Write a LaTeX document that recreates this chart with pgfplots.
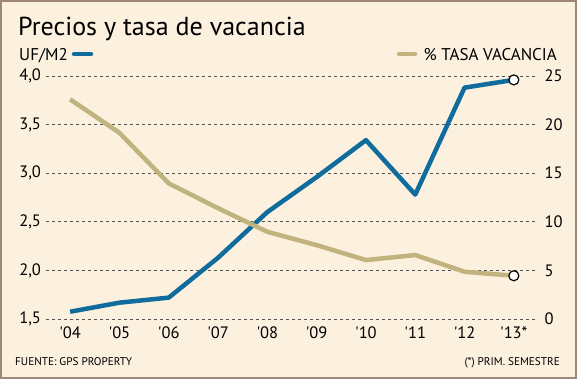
\documentclass[border=0pt]{standalone}
\usepackage{pgfplots}
\pgfplotsset{compat=1.18}
\usepackage{fontspec}
\setmainfont{PT Sans}
\definecolor{bg}{HTML}{FCF0DF}
\definecolor{framec}{HTML}{A08878}
\definecolor{ufblue}{HTML}{106C9C}
\definecolor{tan}{HTML}{C1B37E}
\definecolor{gridc}{HTML}{555555}
\pgfplotstableread{
x uf vac
0 1.575 22.6
1 1.668 19.15
2 1.72 13.95
3 2.13 11.4
4 2.60 8.97
5 2.96 7.6
6 3.34 6.06
7 2.78 6.58
8 3.88 4.86
9 3.96 4.45
}\datatab
\begin{document}
\begin{tikzpicture}[x=1pt,y=1pt]
\fill[bg] (0,0) rectangle (577,379);
\draw[framec, line width=2pt] (1,1) rectangle (576,378);
\node[anchor=base west, inner sep=0pt, font=\fontsize{26}{28}\selectfont] at (18,343) {Precios y tasa de vacancia};
\node[anchor=base west, inner sep=0pt, font=\fontsize{17}{19}\selectfont] at (19,318) {UF/M2};
\draw[ufblue, line width=4.5pt, line cap=round] (74,325) -- (91,325);
\draw[tan, line width=4.5pt, line cap=round] (399,325) -- (415,325);
\node[anchor=base east, inner sep=0pt, font=\fontsize{17}{19}\selectfont] at (557,318) {\% TASA VACANCIA};
\node[anchor=base west, inner sep=0pt, font=\fontsize{11.2}{12}\selectfont] at (15,13) {FUENTE: GPS PROPERTY};
\node[anchor=base east, inner sep=0pt, font=\fontsize{11.2}{12}\selectfont] at (560,13) {(*) PRIM. SEMESTRE};
\begin{axis}[
  at={(45.5pt,60pt)}, anchor=south west, scale only axis,
  width=491.5pt, height=243pt,
  xmin=-0.5, xmax=9.47, ymin=1.5, ymax=4,
  axis line style={draw=none}, tick style={draw=none},
  major tick length=0pt,
  xtick={0,...,9},
  xticklabels={{\textquotesingle 04},{\textquotesingle 05},{\textquotesingle 06},{\textquotesingle 07},{\textquotesingle 08},{\textquotesingle 09},{\textquotesingle 10},{\textquotesingle 11},{\textquotesingle 12},{\textquotesingle 13*}},
  xticklabel style={yshift=-4pt},
  ytick={1.5,2,2.5,3,3.5,4},
  yticklabel style={xshift=-1pt, /pgf/number format/.cd, use comma, fixed, fixed zerofill, precision=1},
  /pgf/number format/assume math mode=true,
  ticklabel style={font=\fontsize{16.5}{18}\selectfont},
  ymajorgrids, grid style={dashed, gridc, line width=0.6pt},
  axis y line*=left, axis x line*=bottom,
  clip=false,
]
\addplot[ufblue, line width=4.5pt, line join=round] table[x=x,y=uf] {\datatab};
\addplot[only marks, mark=*, mark size=5pt, mark options={fill=white, draw=black, line width=1.2pt}] coordinates {(9,3.96)};
\end{axis}
\begin{axis}[
  at={(45.5pt,60pt)}, anchor=south west, scale only axis,
  width=491.5pt, height=243pt,
  xmin=-0.5, xmax=9.47, ymin=0, ymax=25,
  axis line style={draw=none}, tick style={draw=none},
  major tick length=0pt,
  axis y line*=right, axis x line=none,
  ytick={0,5,...,25},
  yticklabel style={xshift=4pt},
  /pgf/number format/assume math mode=true,
  ticklabel style={font=\fontsize{16.5}{18}\selectfont},
  clip=false,
]
\addplot[tan, line width=4.5pt, line join=round] table[x=x,y=vac] {\datatab};
\addplot[only marks, mark=*, mark size=5pt, mark options={fill=white, draw=black, line width=1.2pt}] coordinates {(9,4.45)};
\end{axis}
\end{tikzpicture}
\end{document}
